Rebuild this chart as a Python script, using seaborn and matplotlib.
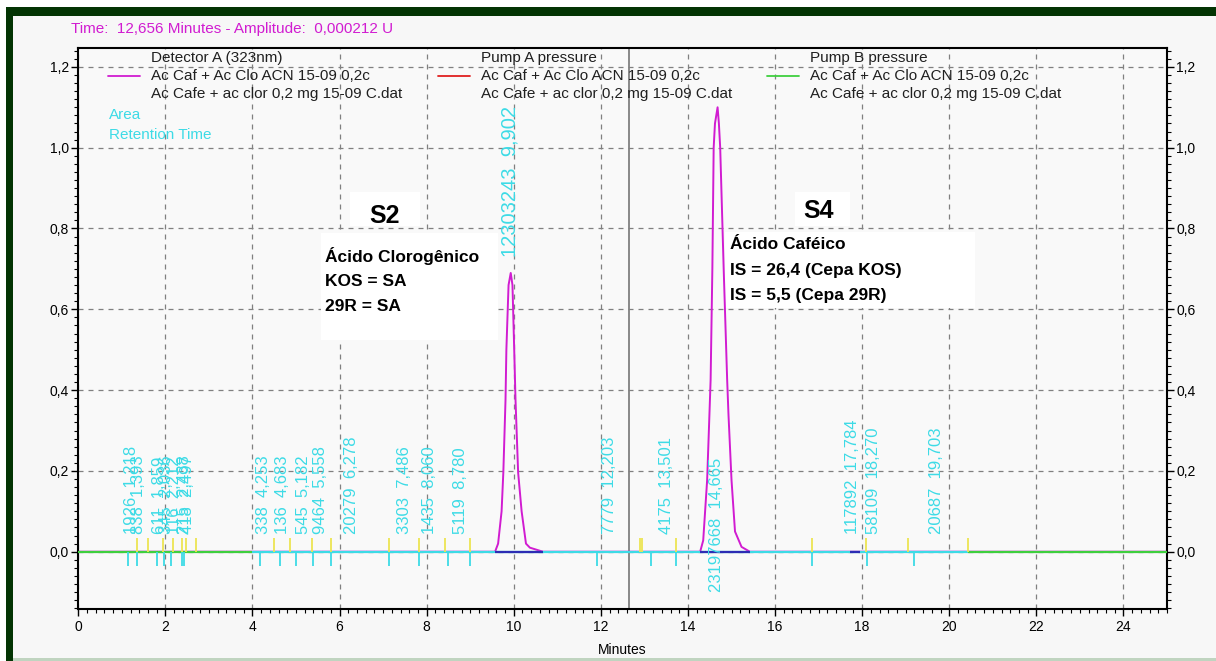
### Chromatogram: Ac Caf + Ac Clo ###

# imports
import matplotlib
matplotlib.use("Agg")
import matplotlib.pyplot as plt
from matplotlib.lines import Line2D
from matplotlib.patches import Rectangle
from matplotlib.ticker import MultipleLocator, FuncFormatter
import pandas as pd
import seaborn as sns

# detector trace (minutes, amplitude)
trace_t = [0.0, 9.57, 9.64, 9.72, 9.76, 9.81, 9.83, 9.88, 9.93, 9.97, 10.01, 10.04, 10.10, 10.18,
           10.28, 10.37, 10.67, 14.28, 14.35, 14.44, 14.48, 14.52, 14.56, 14.59, 14.62, 14.65,
           14.68, 14.71, 14.74, 14.82, 14.90, 14.93, 15.00, 15.08, 15.23, 15.42, 25.0]
trace_a = [0.0, 0.0, 0.02, 0.10, 0.196, 0.375, 0.50, 0.66, 0.69, 0.66, 0.50, 0.375, 0.196, 0.10,
           0.02, 0.01, 0.0, 0.0, 0.028, 0.177, 0.30, 0.425, 0.70, 1.0, 1.06, 1.08,
           1.10, 1.06, 1.0, 0.70, 0.425, 0.34, 0.177, 0.05, 0.012, 0.0, 0.0]

# integrated peaks
peak_rt = [1.218, 1.393, 1.859, 2.036, 2.212, 2.438, 2.497, 4.253, 4.683, 5.182, 5.558, 6.278,
           7.486, 8.060, 8.780, 9.902, 12.203, 13.501, 14.665, 17.784, 18.270, 19.703]
peak_area = [1926, 838, 611, 345, 116, 215, 418, 338, 136, 545, 9464, 20279,
             3303, 1435, 5119, 12303243, 7779, 4175, 23197668, 117892, 58109, 20687]

# event marks on the baseline
cyan_marks = [1.13, 1.355, 1.80, 1.97, 2.14, 2.37, 2.43, 4.17, 4.63, 5.01, 5.40, 5.80,
              7.14, 7.83, 8.50, 8.99, 11.90, 13.14, 13.72, 16.85, 18.10, 19.20]
yellow_marks = [1.355, 1.61, 1.95, 2.18, 2.37, 2.47, 2.70, 4.50, 4.86, 5.37, 5.80,
                7.14, 7.83, 8.42, 8.99, 12.90, 12.95, 13.72, 16.85, 18.09, 19.06, 20.44]
green_base = [(0.0, 4.0), (20.44, 25.0)]
cyan_base = [(4.0, 20.44)]
navy_base = [(9.57, 10.67), (14.28, 15.42), (17.72, 17.95)]
cursor_t = 12.656

x_ticks = list(range(0, 25, 2))
y_ticks = [0.0, 0.2, 0.4, 0.6, 0.8, 1.0, 1.2]

legend_names = ["Detector A (323nm)", "Pump A pressure", "Pump B pressure"]
run_1 = "Ac Caf + Ac Clo ACN 15-09 0,2c"
run_2 = "Ac Cafe + ac clor 0,2 mg 15-09 C.dat"

MAG = "#d11cd1"
CYAN = "#3ddbe6"
YEL = "#ece552"
GRN = "#3fcf3f"
RED = "#e02020"
NAVY = "#2d2db4"
DKGRN = "#033403"
GRID = "#808080"

W, H = 1216, 661


def fx(x):
    return x / W


def fy(y):
    return 1 - y / H


def comma(v, pos=None):
    return "{:.1f}".format(v).replace(".", ",")


def chromatogram():
    sns.set_theme(style="ticks")
    plt.rcParams['font.family'] = ['Liberation Sans', 'DejaVu Sans']

    fig = plt.figure(figsize=(12.16, 6.61), dpi=100, facecolor="#f7f7f7")
    # window frame
    fig.add_artist(Rectangle((0, fy(7)), 1, 7 / H, transform=fig.transFigure, color="white", lw=0))
    fig.add_artist(Rectangle((0, 0), fx(6), 1, transform=fig.transFigure, color="white", lw=0))
    fig.add_artist(Rectangle((fx(6), fy(16)), 1, 9 / H, transform=fig.transFigure, color=DKGRN, lw=0))
    fig.add_artist(Rectangle((fx(6), 0), 7 / W, fy(7), transform=fig.transFigure, color=DKGRN, lw=0))
    fig.add_artist(Rectangle((fx(13), 0), 1, 3 / H, transform=fig.transFigure, color="#c0d4c0", lw=0))

    ax = fig.add_axes([fx(78.3), fy(609), (1167 - 78.3) / W, (609 - 47.5) / H])
    ax.set_facecolor("#f9f9f9")

    trace = pd.DataFrame({"t": trace_t, "a": trace_a})
    sns.lineplot(data=trace, x="t", y="a", ax=ax, color=MAG, lw=1.4,
                 estimator=None, sort=False, zorder=2)

    for segs, col, z in [(green_base, GRN, 3), (cyan_base, CYAN, 4), (navy_base, NAVY, 5)]:
        ax.hlines([0] * len(segs), [s[0] for s in segs], [s[1] for s in segs],
                  colors=col, lw=1.6, zorder=z)
    ax.vlines(cyan_marks, -0.036, 0, colors=CYAN, lw=1.3, zorder=6)
    ax.vlines(yellow_marks, 0, 0.034, colors=YEL, lw=1.3, zorder=6)
    ax.axvline(cursor_t, color=GRID, lw=1.3, zorder=1.5)

    # peak labels (area  retention time)
    for rt, area in zip(peak_rt, peak_area):
        txt = "{}  {:.3f}".format(area, rt).replace(".", ",")
        y0, fs = 0.045, 12
        if area == 12303243:
            y0, fs = 0.729, 14.5
        elif area == 23197668:
            y0 = -0.099
        ax.text(rt, y0, txt, rotation=90, ha="center", va="bottom", color=CYAN,
                fontsize=fs, zorder=7)

    # annotation boxes
    for (x0, x1, y0, y1) in [(6.25, 7.85, 0.806, 0.89), (5.57, 9.64, 0.524, 0.789),
                             (16.46, 17.72, 0.806, 0.89), (14.85, 20.59, 0.603, 0.791)]:
        ax.add_patch(Rectangle((x0, y0), x1 - x0, y1 - y0, facecolor="white", lw=0, zorder=1.2))
    ax.text(7.03, 0.83, "S2", ha="center", va="center", fontsize=18, fontweight="bold",
            color="black", zorder=8)
    ax.text(17.0, 0.843, "S4", ha="center", va="center", fontsize=18, fontweight="bold",
            color="black", zorder=8)
    for line, yy in zip(["Ácido Clorogênico", "KOS = SA", "29R = SA"], [0.733, 0.668, 0.606]):
        ax.text(5.66, yy, line, ha="left", va="center", fontsize=12.5, fontweight="bold",
                color="black", zorder=8)
    for line, yy in zip(["Ácido Caféico", "IS = 26,4 (Cepa KOS)", "IS = 5,5 (Cepa 29R)"],
                        [0.761, 0.695, 0.635]):
        ax.text(14.97, yy, line, ha="left", va="center", fontsize=12.5, fontweight="bold",
                color="black", zorder=8)

    ax.set_xlim(0, 25)
    ax.set_ylim(-0.1418, 1.248)
    ax.set_xticks(x_ticks)
    ax.set_yticks(y_ticks)
    ax.yaxis.set_major_formatter(FuncFormatter(comma))
    ax.xaxis.set_minor_locator(MultipleLocator(0.2))
    ax.yaxis.set_minor_locator(MultipleLocator(0.02))
    ax.set_axisbelow(True)
    ax.grid(True, which="major", color=GRID, ls=(0, (4, 4)), lw=0.9)
    ax.set_xlabel("")
    ax.set_ylabel("")
    for sp in ax.spines.values():
        sp.set_visible(True)
        sp.set_color("black")
        sp.set_linewidth(1.5)
    ax.tick_params(axis="both", which="major", direction="out", length=4.8, width=1,
                   colors="black", labelsize=10)
    ax.tick_params(axis="both", which="minor", direction="out", length=2.9, width=0.8,
                   colors="black")
    ax.tick_params(axis="y", which="both", left=True, right=True, labelleft=True,
                   labelright=True, pad=2)
    ax.tick_params(axis="x", which="both", top=False, bottom=True, pad=3)

    # legend block
    fig.text(fx(71), fy(28.5), "Time:  12,656 Minutes - Amplitude:  0,000212 U",
             color=MAG, fontsize=11, va="center", ha="left")
    for name, col, x in zip(legend_names, [MAG, RED, GRN], [151, 481, 810]):
        fig.text(fx(x), fy(58), name, fontsize=11, color="#202020", va="center")
        fig.text(fx(x), fy(76), run_1, fontsize=11, color="#202020", va="center")
        fig.text(fx(x), fy(94), run_2, fontsize=11, color="#202020", va="center")
        fig.add_artist(Line2D([fx(x - 43), fx(x - 11)], [fy(76), fy(76)], color=col, lw=1.3,
                              transform=fig.transFigure))
    fig.text(fx(109), fy(115), "Area", color=CYAN, fontsize=11, va="center")
    fig.text(fx(109), fy(135), "Retention Time", color=CYAN, fontsize=11, va="center")
    fig.text(fx(622), fy(650), "Minutes", fontsize=10, color="black", ha="center", va="center")

    plt.savefig("out.png", dpi=100, facecolor=fig.get_facecolor())


if __name__ == "__main__":
    chromatogram()
